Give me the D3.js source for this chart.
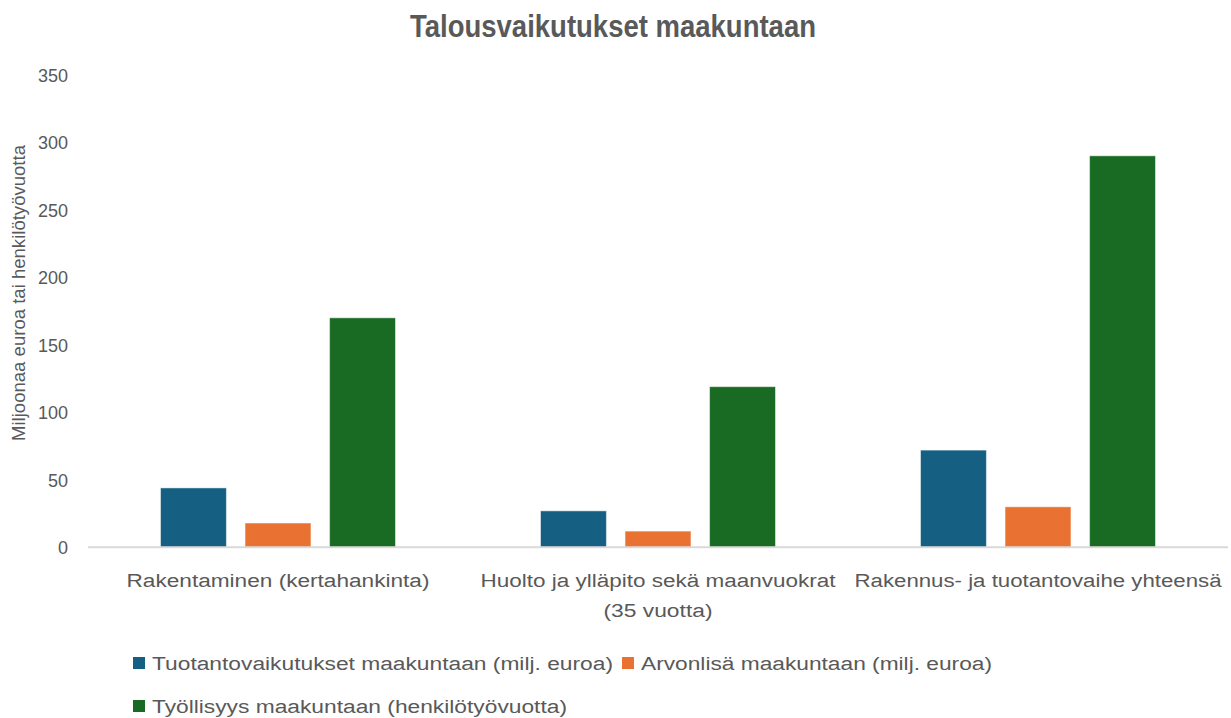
<!DOCTYPE html>
<html>
<head>
<meta charset="utf-8">
<script src="https://cdn.jsdelivr.net/npm/d3@7"></script>
<style>
  html, body { margin: 0; padding: 0; background: #ffffff; }
  svg { display: block; }
  text { font-family: "Liberation Sans", Arial, sans-serif; fill: #595959; }
</style>
</head>
<body>
<svg id="chart" width="1231" height="718"></svg>
<script>
// Talousvaikutukset maakuntaan – data
const categories = [
  ["Rakentaminen (kertahankinta)"],
  ["Huolto ja ylläpito sekä maanvuokrat", "(35 vuotta)"],
  ["Rakennus- ja tuotantovaihe yhteensä"]
];
const seriesNames = [
  "Tuotantovaikutukset maakuntaan (milj. euroa)",
  "Arvonlisä maakuntaan (milj. euroa)",
  "Työllisyys maakuntaan (henkilötyövuotta)"
];
const tuotanto = [44, 27, 72];
const arvonlisa = [18, 12, 30];
const tyollisyys = [170, 119, 290];
const yTicks = [0, 50, 100, 150, 200, 250, 300, 350];
const colors = ["#156082", "#E97132", "#196B24"];

const series = [tuotanto, arvonlisa, tyollisyys];
const svg = d3.select("#chart");

const plotLeft = 88, plotRight = 1228, plotTop = 74.8, plotBottom = 547.3;

const y = d3.scaleLinear().domain([0, 350]).range([plotBottom, plotTop]);
const x0 = d3.scaleBand().domain(d3.range(categories.length)).range([plotLeft, plotRight]).padding(0);
const x1 = d3.scaleBand().domain(d3.range(series.length))
  .range([72.5, x0.bandwidth() - 72.5]).paddingInner(0.22).paddingOuter(0);

// Title (condensed bold face)
svg.append("text")
  .attr("x", 613).attr("y", 37)
  .attr("text-anchor", "middle")
  .attr("textLength", 406).attr("lengthAdjust", "spacingAndGlyphs")
  .style("font-family", "'Liberation Sans Narrow', 'Arial Narrow', 'Liberation Sans', sans-serif")
  .style("font-size", "31px").style("font-weight", "bold")
  .text("Talousvaikutukset maakuntaan");

// Y axis tick labels
const yAxis = d3.axisLeft(y).tickValues(yTicks).tickSize(0).tickPadding(0);
const gy = svg.append("g").attr("transform", `translate(68,0)`).call(yAxis);
gy.select(".domain").remove();
gy.selectAll("text")
  .style("font-size", "18px")
  .style("font-family", "'Liberation Sans', Arial, sans-serif")
  .attr("fill", "#595959")
  .attr("dy", "0.35em");

// Y axis title
svg.append("text")
  .attr("transform", `translate(25,${293}) rotate(-90)`)
  .attr("text-anchor", "middle")
  .attr("textLength", 296).attr("lengthAdjust", "spacingAndGlyphs")
  .style("font-size", "18px")
  .text("Miljoonaa euroa tai henkilötyövuotta");

// Bars
const groups = svg.append("g").selectAll("g")
  .data(categories.map((c, i) => i))
  .join("g")
  .attr("transform", i => `translate(${x0(i)},0)`);

groups.selectAll("rect")
  .data(i => series.map((s, k) => ({ k, v: s[i] })))
  .join("rect")
  .attr("x", d => x1(d.k))
  .attr("width", x1.bandwidth())
  .attr("y", d => y(d.v))
  .attr("height", d => y(0) - y(d.v))
  .attr("fill", d => colors[d.k])
  .attr("stroke", "#ffffff")
  .attr("stroke-opacity", 0.5)
  .attr("stroke-width", 1);

// X axis line
svg.append("line")
  .attr("x1", plotLeft).attr("x2", plotRight)
  .attr("y1", y(0)).attr("y2", y(0))
  .attr("stroke", "#d9d9d9").attr("stroke-width", 2);

// Category labels
const catWidths = [[303], [355, 109], [367]];
categories.forEach((lines, i) => {
  lines.forEach((ln, j) => {
    svg.append("text")
      .attr("x", x0(i) + x0.bandwidth() / 2)
      .attr("y", 587 + j * 30)
      .attr("text-anchor", "middle")
      .attr("textLength", catWidths[i][j]).attr("lengthAdjust", "spacingAndGlyphs")
      .style("font-size", "18px")
      .text(ln);
  });
});

// Legend
const legendItems = [
  { k: 0, x: 133, y: 663, w: 461 },
  { k: 1, x: 622, y: 663, w: 351 },
  { k: 2, x: 133, y: 706, w: 415 }
];
const lg = svg.append("g");
legendItems.forEach(it => {
  lg.append("rect")
    .attr("x", it.x).attr("y", it.y - 6)
    .attr("width", 12).attr("height", 12)
    .attr("fill", colors[it.k]);
  lg.append("text")
    .attr("x", it.x + 19).attr("y", it.y + 6.5)
    .attr("textLength", it.w).attr("lengthAdjust", "spacingAndGlyphs")
    .style("font-size", "18px")
    .text(seriesNames[it.k]);
});
</script>
</body>
</html>
